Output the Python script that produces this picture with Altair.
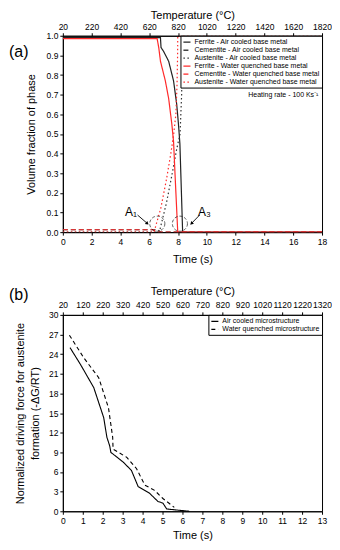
import altair as alt
import pandas as pd

FONT = "Liberation Sans"

# ---------------- Panel (a) data ----------------
names_a = [
    "Ferrite - Air cooled base metal",
    "Cementite - Air cooled base metal",
    "Austenite - Air cooled base metal",
    "Ferrite - Water quenched base metal",
    "Cementite - Water quenched base metal",
    "Austenite - Water quenched base metal",
]
colors_a = ["#222222", "#222222", "#333333", "#ff2a2a", "#ff2a2a", "#ff2a2a"]
dashes_a = [[1, 0], [5, 3], [1.5, 2.5], [1, 0], [5, 3], [1.5, 2.5]]

fa_t = [0, 6.78, 6.82, 7.0, 7.35, 7.69, 7.91, 8.03, 8.13, 8.32, 18]
fa_v = [0.99, 0.99, 0.94, 0.92, 0.87, 0.77, 0.65, 0.55, 0.45, 0.0, 0.0]
ca_t = [0, 6.6, 6.8, 18]
ca_v = [0.012, 0.012, 0.0, 0.0]
aa_t = [0, 6.7, 7.2, 7.6, 7.9, 8.14, 8.25, 8.3, 8.35, 18]
aa_v = [0, 0, 0.15, 0.3, 0.42, 0.5, 0.7, 0.9, 1.0, 1.0]
fw_t = [0, 6.55, 6.67, 6.78, 7.12, 7.35, 7.57, 7.69, 7.82, 7.98, 18]
fw_v = [0.985, 0.985, 0.935, 0.87, 0.77, 0.68, 0.55, 0.46, 0.25, 0.0, 0.0]
cw_t = [0, 6.3, 6.5, 18]
cw_v = [0.012, 0.012, 0.0, 0.0]
aw_t = [0, 6.33, 6.8, 7.2, 7.5, 7.7, 7.85, 7.93, 7.97, 7.98, 18]
aw_v = [0, 0, 0.12, 0.27, 0.4, 0.5, 0.6, 0.75, 0.9, 1.0, 1.0]

series_a = [(fa_t, fa_v), (ca_t, ca_v), (aa_t, aa_v), (fw_t, fw_v), (cw_t, cw_v), (aw_t, aw_v)]

ticks_a = list(range(0, 19, 2))
yticks_a = [round(i * 0.1, 1) for i in range(11)]

circ_t = [6.56, 8.13]
circ_v = [0.043, 0.043]
lab_text = ["A\u2081", "A\u2083"]
lab_t = [4.74, 9.84]
lab_v = [0.10, 0.10]
arr_t = [5.19, 9.5]
arr_v = [0.087, 0.087]
arr_t2 = [5.87, 8.93]
arr_v2 = [0.044, 0.044]
arr_ang = [40, 135]

# ---------------- Panel (b) data ----------------
names_b = ["Air cooled microstructure", "Water quenched microstructure"]
air_t = [0.36, 0.89, 1.55, 2.05, 2.21, 2.35, 2.41, 3.03, 3.44, 3.78, 4.35, 4.77, 5.02, 5.21, 5.84, 6.34]
air_v = [25.0, 22.4, 18.9, 14.3, 11.3, 10.0, 9.0, 7.5, 6.25, 3.75, 2.75, 1.5, 1.25, 0.35, 0.15, 0.0]
wq_t = [0.33, 1.06, 1.80, 2.29, 2.50, 2.52, 3.2, 3.7, 4.11, 4.6, 5.02, 5.59]
wq_v = [26.9, 23.4, 20.4, 15.8, 11.3, 9.5, 8.25, 6.5, 4.0, 3.2, 1.95, 0.6]
ticks_b = list(range(0, 14))
yticks_b = list(range(0, 31, 3))

# ---------------- build tables ----------------
rows = []
for name, (ts, vs) in zip(names_a, series_a):
    for i, (t, v) in enumerate(zip(ts, vs)):
        rows.append({"series": name, "t": t, "v": v, "i": i})
df_a = pd.DataFrame(rows)

rows = []
for name, (ts, vs) in zip(names_b, [(air_t, air_v), (wq_t, wq_v)]):
    for i, (t, v) in enumerate(zip(ts, vs)):
        rows.append({"series": name, "t": t, "v": v, "i": i})
df_b = pd.DataFrame(rows)

df_circ = pd.DataFrame({"t": circ_t, "v": circ_v})
df_lab = pd.DataFrame({"t": lab_t, "v": lab_v, "txt": lab_text})
df_arr = pd.DataFrame({"t": arr_t, "v": arr_v, "t2": arr_t2, "v2": arr_v2})
df_head = pd.DataFrame({"t": arr_t2, "v": arr_v2, "ang": arr_ang})
df_heat = pd.DataFrame({"t": [17.75], "v": [0.70], "txt": ["Heating rate - 100 Ks\u207b\u00b9"]})

W = 260
HA = 197
HB = 197

# ---------------- Panel (a) ----------------
xa = alt.X("t:Q", scale=alt.Scale(domain=[0, 18], nice=False),
           axis=alt.Axis(values=ticks_a, title="Time (s)", labelFlush=False, titlePadding=8))
ya = alt.Y("v:Q", scale=alt.Scale(domain=[0, 1], nice=False),
           axis=alt.Axis(values=yticks_a, format=".1f", title="Volume fraction of phase",
                         titlePadding=10))

leg_a = alt.Legend(title=None, orient="top-right", offset=0, symbolType="stroke",
                   symbolSize=50, symbolStrokeWidth=1.3, labelFontSize=7, rowPadding=0,
                   padding=2, strokeColor="black", fillColor="white", labelOffset=3,
                   labelLimit=200)

lines_a = alt.Chart(df_a).mark_line(strokeWidth=1.2, clip=True).encode(
    x=xa, y=ya,
    color=alt.Color("series:N", scale=alt.Scale(domain=names_a, range=colors_a), legend=leg_a, sort=names_a),
    strokeDash=alt.StrokeDash("series:N", scale=alt.Scale(domain=names_a, range=dashes_a), legend=leg_a, sort=names_a),
    order="i:Q",
)

circles = alt.Chart(df_circ).mark_point(shape="circle", size=230, color="black",
                                        strokeDash=[3, 2], strokeWidth=0.9, filled=False).encode(x=xa, y=ya)
labels = alt.Chart(df_lab).mark_text(font=FONT, fontSize=12, color="black").encode(x=xa, y=ya, text="txt:N")
arrows = alt.Chart(df_arr).mark_rule(color="black", strokeWidth=0.9).encode(x=xa, y=ya, x2="t2:Q", y2="v2:Q")
heads = alt.Chart(df_head).mark_point(shape="triangle-right", size=14, filled=True, color="black", opacity=1).encode(
    x=xa, y=ya, angle=alt.Angle("ang:Q", scale=None),
)
heat = alt.Chart(df_heat).mark_text(font=FONT, fontSize=7, align="right", color="black").encode(x=xa, y=ya, text="txt:N")
panel_lab_a = alt.Chart(df_heat).mark_text(font=FONT, fontSize=16, align="left", color="black", text="(a)").encode(
    x=alt.value(-54), y=alt.value(16))

top_a = alt.Chart(pd.DataFrame({"t": ticks_a})).mark_rule(opacity=0).encode(
    x=alt.X("t:Q", scale=alt.Scale(domain=[0, 18], nice=False),
            axis=alt.Axis(orient="top", values=ticks_a, labelExpr="format(20 + datum.value*100, 'd')",
                          title="Temperature (\u00b0C)", labelFlush=False, titlePadding=2, labelPadding=1))
)

inner_a = alt.layer(lines_a, circles, arrows, heads, labels, heat, panel_lab_a)
chart_a = alt.layer(inner_a, top_a).resolve_axis(x="independent").properties(width=W, height=HA)

# ---------------- Panel (b) ----------------
xb = alt.X("t:Q", scale=alt.Scale(domain=[0, 13], nice=False),
           axis=alt.Axis(values=ticks_b, title="Time (s)", labelFlush=False, titlePadding=5))
yb = alt.Y("v:Q", scale=alt.Scale(domain=[0, 30], nice=False),
           axis=alt.Axis(values=yticks_b, title=["Normalized driving force for austenite", "formation (-\u0394G/RT)"],
                         titlePadding=8, titleLineHeight=15))
leg_b = alt.Legend(title=None, orient="top-right", offset=0, symbolType="stroke",
                   symbolSize=50, symbolStrokeWidth=1.2, labelFontSize=7, rowPadding=0,
                   padding=2, strokeColor="black", fillColor="white", labelOffset=3, labelLimit=200)
lines_b = alt.Chart(df_b).mark_line(strokeWidth=1.1, color="black").encode(
    x=xb, y=yb,
    strokeDash=alt.StrokeDash("series:N", scale=alt.Scale(domain=names_b, range=[[1, 0], [4, 3]]), legend=leg_b, sort=names_b),
    order="i:Q",
)
panel_lab_b = alt.Chart(pd.DataFrame({"t": [0]})).mark_text(font=FONT, fontSize=16, align="left", color="black", text="(b)").encode(
    x=alt.value(-54), y=alt.value(-20))
top_b = alt.Chart(pd.DataFrame({"t": ticks_b})).mark_rule(opacity=0).encode(
    x=alt.X("t:Q", scale=alt.Scale(domain=[0, 13], nice=False),
            axis=alt.Axis(orient="top", values=ticks_b, labelExpr="format(20 + datum.value*100, 'd')",
                          title="Temperature (\u00b0C)", labelFlush=False, labelOverlap=False,
                          titlePadding=4, labelPadding=2))
)
inner_b = alt.layer(lines_b, panel_lab_b)
chart_b = alt.layer(inner_b, top_b).resolve_axis(x="independent").properties(width=W, height=HB)

chart = alt.vconcat(chart_a, chart_b, spacing=20).resolve_scale(
    color="independent", strokeDash="independent"
).properties(padding=0).configure(
    font=FONT
).configure_view(stroke="black", strokeWidth=1).configure_axis(
    grid=False, domainColor="black", tickColor="black", labelColor="black", titleColor="black",
    labelFont=FONT, titleFont=FONT, labelFontSize=8.5, titleFontSize=11, titleFontWeight="normal",
    tickSize=3, labelPadding=2, labelOverlap=False, labelBound=False
).configure_legend(labelFont=FONT, labelColor="black")

chart.save("out.html", embed_options={"renderer": "svg", "actions": False})
